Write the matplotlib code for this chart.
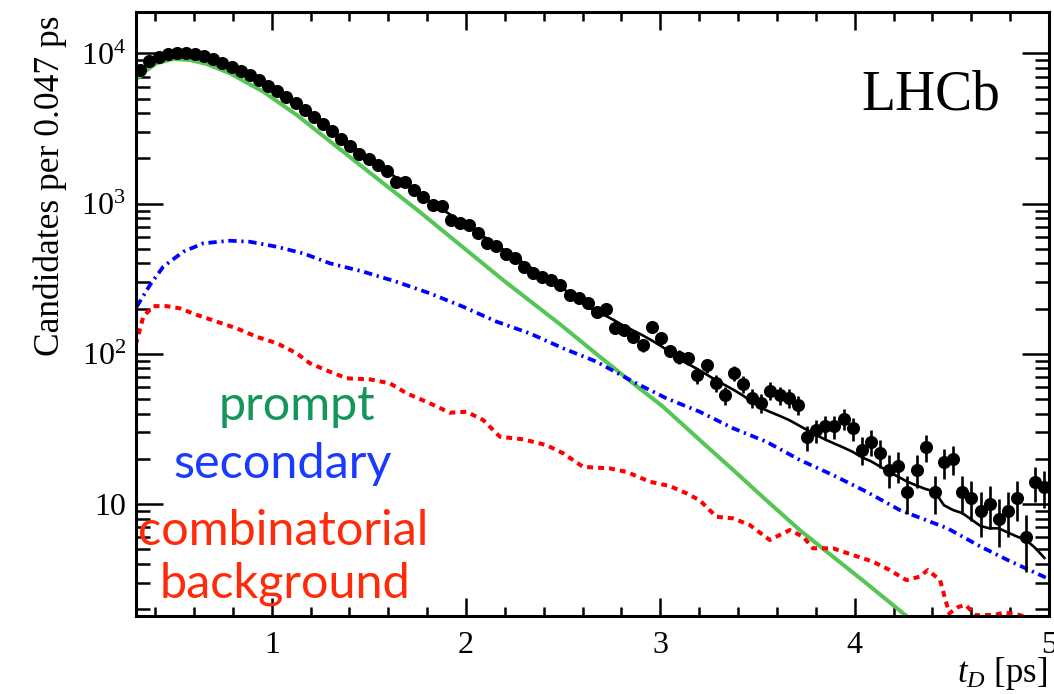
import numpy as np
import matplotlib
matplotlib.use("Agg")
import matplotlib.pyplot as plt
from matplotlib.ticker import FixedLocator, FixedFormatter, LogLocator, NullFormatter, MultipleLocator

plt.rcParams['font.family'] = ['Liberation Serif', 'DejaVu Serif']
plt.rcParams['mathtext.fontset'] = 'custom'
plt.rcParams['mathtext.rm'] = 'Liberation Serif'
plt.rcParams['mathtext.it'] = 'Liberation Serif:italic'
plt.rcParams['mathtext.bf'] = 'Liberation Serif:bold'
plt.rcParams['lines.scale_dashes'] = False

# ---- binning: 0.047 ps bins from 0.3 to 5.0 ps ----
bin_edges = np.linspace(0.3, 5.0, 101)
t_bins = 0.5 * (bin_edges[:-1] + bin_edges[1:])

# ---- candidates per bin ----
counts = np.array([
    7770, 8910, 9480, 9850, 10000, 10000, 9850, 9550, 9120, 8650,
    8130, 7650, 7140, 6610, 6080, 5590, 5100, 4650, 4210, 3780,
    3390, 3050, 2680, 2430, 2140, 1980, 1810, 1650, 1400, 1390,
    1230, 1100, 980, 965, 779, 740, 718, 641, 545, 523,
    462, 437, 377, 347, 324, 310, 288, 247, 237, 217,
    191, 198, 148, 144, 129, 114, 152, 127, 105, 96,
    94, 72, 84, 64, 53, 75, 63, 51, 47, 57,
    53, 51, 46, 28, 31, 33, 33, 37, 32, 23,
    26, 22, 17, 18, 12, 17, 24, 12, 19, 20,
    12, 11, 9, 10, 8, 9, 11, 6, 14, 13,
], dtype=float)

# ---- total fit, evaluated per bin ----
fit_total = [
    7770, 8910, 9480, 9850, 10000, 10000, 9850, 9550, 9120, 8645,
    8130, 7645, 7137, 6610, 6076, 5585, 5095, 4646, 4205, 3777,
    3393, 3048, 2737, 2459, 2225, 2014, 1824, 1651, 1494, 1352,
    1224, 1108, 1011, 922, 841, 767, 700, 638, 582, 531,
    484, 442, 403, 367, 335, 306, 279, 254, 232, 208,
    187, 179, 166, 153, 143, 133, 123, 113, 103, 94,
    85.6, 79.3, 72.9, 67.1, 62.1, 57.5, 52.8, 47.8, 43.6, 41.0,
    38.7, 36.4, 33.7, 31.2, 28.9, 26.9, 25.3, 23.8, 22.3, 20.5,
    19.3, 17.8, 16.4, 15.2, 14.1, 13.3, 12.6, 12.1, 9.83, 9.13,
    8.72, 7.90, 7.15, 6.90, 6.90, 6.47, 6.08, 5.77, 5.10, 4.38,
]

# ---- fit components ----
t_prompt = [0.30, 0.3185, 0.35, 0.408, 0.4934, 0.5793, 0.6652, 0.7851, 0.9564,
            1.1282, 1.334, 1.7625, 2.191, 2.4826, 2.6884, 2.8597, 3.014, 3.2028,
            3.3741, 3.5459, 3.7172, 3.8885, 4.0603, 4.2661, 4.35]
prompt = [6760, 6940, 7650, 8610, 9190, 9050, 8510, 7380, 5570,
          3900, 2400, 880, 310, 158, 95.8, 63.7, 44.5, 26.7,
          16.9, 10.6, 6.72, 4.47, 2.97, 1.80, 1.45]

t_secondary = [0.3051, 0.3736, 0.442, 0.5449, 0.6477, 0.7851, 0.888, 1.0253, 1.1621,
               1.2995, 1.4708, 1.6426, 1.8139, 1.9852, 2.157, 2.3283, 2.4996, 2.6714,
               2.8597, 3.0315, 3.2028, 3.3741, 3.5459, 3.7172, 3.8885, 4.0603, 4.2316,
               4.4775, 4.6498, 4.7882, 5.0]
secondary = [206, 288, 381, 479, 545, 567, 558, 517, 467,
             401, 353, 302, 253, 206, 164, 137, 109, 88.8,
             65.3, 50.6, 41.2, 32.0, 26.0, 19.7, 15.6, 12.1, 9.14,
             6.90, 5.20, 4.24, 3.17]

t_comb = [0.30, 0.3391, 0.3905, 0.4595, 0.5279, 0.6138, 0.7167, 0.8196, 0.9224,
          1.0253, 1.1282, 1.1966, 1.2995, 1.3854, 1.5053, 1.6081, 1.694, 1.8139,
          1.9168, 2.0027, 2.0881, 2.174, 2.2938, 2.4142, 2.4996, 2.6025, 2.7398,
          2.8257, 2.9455, 3.0484, 3.1343, 3.2028, 3.2887, 3.3741, 3.46, 3.5629,
          3.6657, 3.7342, 3.7856, 3.8885, 3.9914, 4.0942, 4.18, 4.2659, 4.3344,
          4.3766, 4.4393, 4.4866, 4.5335, 4.571, 4.6225, 4.72, 4.7714, 4.84,
          4.9, 5.0]
comb = [115, 177, 208, 208, 201, 182, 164, 148, 130,
        118, 101, 86.6, 76.1, 68.8, 67.7, 63.7, 54.7, 46.9,
        40.6, 41.2, 36.3, 28.1, 27.0, 24.7, 21.8, 17.7, 17.3,
        16.4, 14.1, 13.2, 11.8, 10.6, 8.24, 8.04, 7.26, 5.77,
        6.72, 6.07, 5.08, 5.08, 4.58, 4.14, 3.64, 3.12, 3.29,
        3.64, 3.12, 1.87, 2.07, 2.13, 1.82, 1.83, 1.9, 1.84,
        1.75, 1.6]

legend_labels = ["prompt", "secondary", "combinatorial", "background"]
y_tick_values = [10, 100, 1000, 10000]
y_tick_labels = ["10", r"$10^{2}$", r"$10^{3}$", r"$10^{4}$"]
x_tick_values = [1, 2, 3, 4, 5]

W, H = 1054, 694
fig = plt.figure(figsize=(W / 100, H / 100), dpi=100)
ax = fig.add_axes([135.7 / W, (H - 616) / H, (1049 - 135.7) / W, (616 - 12.3) / H])

ax.plot(t_prompt, prompt, color='#55c655', lw=2.9, solid_capstyle='butt', zorder=2)
ax.plot(t_secondary, secondary, color='#0000ff', lw=2.7,
        dashes=(6.0, 3.4, 1.6, 3.4), zorder=2)
ax.plot(t_comb, comb, color='#ff0000', lw=2.9, dashes=(4.3, 3.6), zorder=2)
ax.plot(t_bins, fit_total, color='black', lw=1.9, zorder=3)
ax.errorbar(t_bins, counts, yerr=np.sqrt(counts), fmt='o', color='black',
            ms=8.4, elinewidth=1.9, capsize=0, zorder=4)

ax.set_yscale('log')
ax.set_xlim(0.3, 5.0)
ax.set_ylim(1.8, 1.88e4)

ax.yaxis.set_major_locator(FixedLocator(y_tick_values))
ax.yaxis.set_major_formatter(FixedFormatter(y_tick_labels))
ax.yaxis.set_minor_locator(LogLocator(base=10, subs=np.arange(2, 10)))
ax.yaxis.set_minor_formatter(NullFormatter())
ax.xaxis.set_major_locator(FixedLocator(x_tick_values))
ax.xaxis.set_minor_locator(MultipleLocator(0.2))

for sp in ax.spines.values():
    sp.set_linewidth(2.2)
ax.tick_params(axis='both', which='both', direction='in', top=True, right=True,
               width=1.8, labelsize=23)
ax.tick_params(axis='y', which='major', length=19.5, pad=7)
ax.tick_params(axis='y', which='minor', length=10)
ax.tick_params(axis='x', which='major', length=13, pad=11)
ax.tick_params(axis='x', which='minor', length=6.7)

fig.text(50 / W, (H - 15) / H, "Candidates per 0.047 ps", rotation=90,
         ha='center', va='top', fontsize=25.5)
fig.text(1047 / W, (H - 682) / H, r"$t_D$ [ps]", ha='right', va='baseline',
         fontsize=25)
fig.text(1000 / W, (H - 110) / H, "LHCb", ha='right', va='baseline', fontsize=40)

legend_colors = ['#12965a', '#1a3bff', '#ff2a0a', '#ff2a0a']
legend_x = [297, 283, 283, 285]
legend_y = [420, 478, 545, 598]
for lab, c, lx, ly in zip(legend_labels, legend_colors, legend_x, legend_y):
    fig.text(lx / W, (H - ly) / H, lab, color=c, ha='center', va='baseline',
             fontsize=35, family=['Lato', 'DejaVu Sans'])

fig.savefig("out.png", dpi=100)
